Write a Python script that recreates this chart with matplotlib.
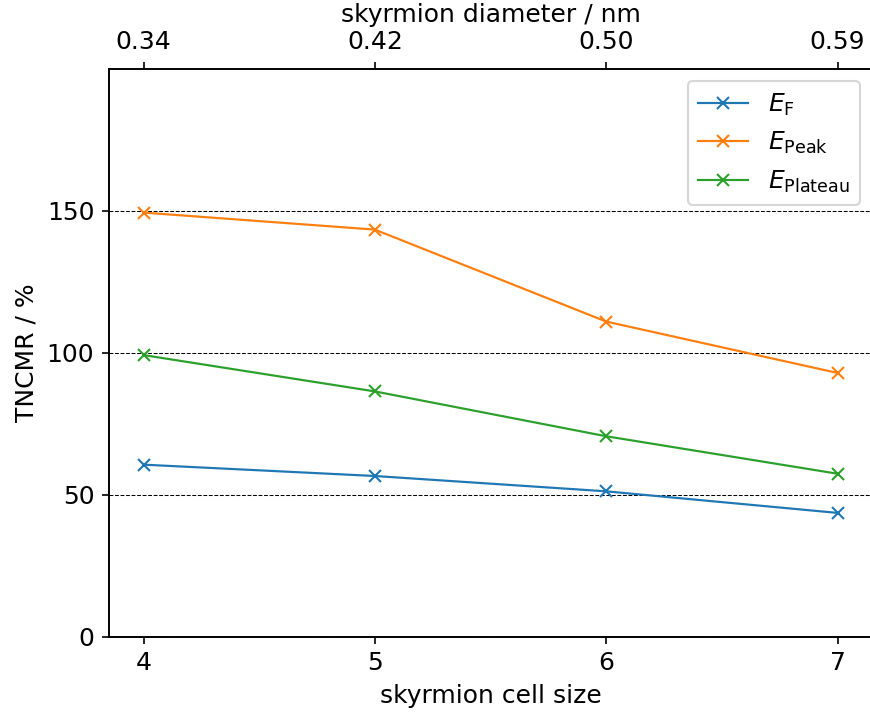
import matplotlib
matplotlib.use("Agg")
import matplotlib.pyplot as plt

plt.rcParams["font.size"] = 12
plt.rcParams["font.family"] = ["DejaVu Sans"]

# skyrmion cell size and the corresponding diameters
cell_size = [4, 5, 6, 7]
diameter_labels = ["0.34", "0.42", "0.50", "0.59"]

# TNCMR values in %
e_f = [60.6, 56.6, 51.2, 43.6]
e_peak = [149.4, 143.4, 111.0, 92.9]
e_plateau = [99.2, 86.4, 70.6, 57.4]

y_ticks = [0, 50, 100, 150]

fig = plt.figure(figsize=(5.8, 716 / 150), dpi=150)
ax = fig.add_axes([0.1251, 0.1108, 0.8775, 0.7929])

style = dict(marker="x", linewidth=1.05, markersize=6)
ax.plot(cell_size, e_f, label=r"$E_\mathrm{F}$", **style)
ax.plot(cell_size, e_peak, label=r"$E_\mathrm{Peak}$", **style)
ax.plot(cell_size, e_plateau, label=r"$E_\mathrm{Plateau}$", **style)

ax.set_ylim(0, 200)
ax.set_yticks(y_ticks)
ax.set_xticks(cell_size)
ax.yaxis.grid(True, linestyle="--", color="k", linewidth=0.5)
ax.set_xlabel("skyrmion cell size")
ax.set_ylabel("TNCMR / %")
ax.legend(loc="upper right")

top = ax.twiny()
top.set_xlim(ax.get_xlim())
top.set_xticks(cell_size)
top.set_xticklabels(diameter_labels)
top.set_xlabel("skyrmion diameter / nm")

fig.savefig("out.png", dpi=150)
